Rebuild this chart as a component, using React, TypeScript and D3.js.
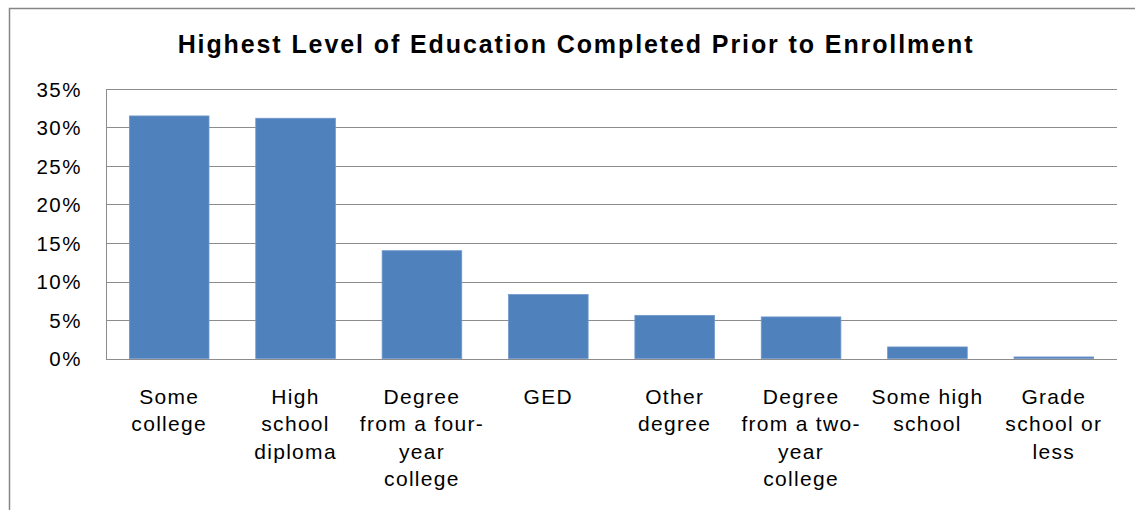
import { useEffect, useRef } from 'react';
import * as d3 from 'd3';

const title = 'Highest Level of Education Completed Prior to Enrollment';

const categories = [
  'Some college',
  'High school diploma',
  'Degree from a four-year college',
  'GED',
  'Other degree',
  'Degree from a two-year college',
  'Some high school',
  'Grade school or less',
];

// wrapped the way the original axis wraps them
const categoryLines = [
  ['Some', 'college'],
  ['High', 'school', 'diploma'],
  ['Degree', 'from a four-', 'year', 'college'],
  ['GED'],
  ['Other', 'degree'],
  ['Degree', 'from a two-', 'year', 'college'],
  ['Some high', 'school'],
  ['Grade', 'school or', 'less'],
];

const shares = [0.315, 0.312, 0.140, 0.083, 0.056, 0.054, 0.015, 0.002];

const yTicks = [0, 0.05, 0.1, 0.15, 0.2, 0.25, 0.3, 0.35];

function App() {
  const svgRef = useRef<SVGSVGElement>(null);

  useEffect(() => {
    if (!svgRef.current) return;
    d3.select(svgRef.current).selectAll('*').remove();

    const W = 1135;
    const H = 510;
    const plot = { left: 106, right: 1117, top: 89, bottom: 358.5 };
    const font = '"Liberation Sans", Arial, sans-serif';

    const svg = d3.select(svgRef.current).attr('width', W).attr('height', H);

    svg.append('rect').attr('width', W).attr('height', H).attr('fill', '#fff');

    // chart frame (right and bottom sides fall outside the picture)
    svg.append('path')
      .attr('d', `M9.5,${H + 2}V8.5H${W + 2}`)
      .attr('fill', 'none')
      .attr('stroke', '#868686')
      .attr('stroke-width', 1.5);

    svg.append('text')
      .attr('x', 576)
      .attr('y', 53)
      .attr('text-anchor', 'middle')
      .attr('font-family', font)
      .attr('font-weight', 'bold')
      .attr('font-size', 25)
      .attr('letter-spacing', 1.9)
      .attr('fill', '#000')
      .text(title);

    const x = d3.scaleBand<string>()
      .domain(categories)
      .range([plot.left, plot.right])
      .paddingInner(0.37)
      .paddingOuter(0.185);

    const y = d3.scaleLinear().domain([0, 0.35]).range([plot.bottom, plot.top]);

    // gridlines
    svg.append('g')
      .selectAll('line')
      .data(yTicks)
      .join('line')
      .attr('x1', plot.left)
      .attr('x2', plot.right)
      .attr('y1', d => Math.round(y(d)) + 0.5)
      .attr('y2', d => Math.round(y(d)) + 0.5)
      .attr('stroke', '#8c8c8c')
      .attr('stroke-width', 1);

    // value axis line
    svg.append('line')
      .attr('x1', plot.left + 0.5)
      .attr('x2', plot.left + 0.5)
      .attr('y1', Math.round(plot.top) + 0.5)
      .attr('y2', Math.round(plot.bottom) + 0.5)
      .attr('stroke', '#8c8c8c');

    // y tick labels
    svg.append('g')
      .selectAll('text')
      .data(yTicks)
      .join('text')
      .attr('x', 82)
      .attr('y', d => y(d) + 7.5)
      .attr('text-anchor', 'end')
      .attr('font-family', font)
      .attr('font-size', 20.5)
      .attr('letter-spacing', 1.5)
      .attr('fill', '#000')
      .text(d => d3.format('.0%')(d));

    // bars
    svg.append('g')
      .selectAll('rect')
      .data(shares)
      .join('rect')
      .attr('x', (_, i) => x(categories[i])!)
      .attr('y', d => y(d))
      .attr('width', x.bandwidth())
      .attr('height', d => y(0) - y(d))
      .attr('fill', '#4f81bd')
      .attr('stroke', '#6f97cb')
      .attr('stroke-width', 0.8);

    // category labels
    const labels = svg.append('g')
      .attr('font-family', font)
      .attr('font-size', 21)
      .attr('letter-spacing', 1.3)
      .attr('fill', '#000')
      .attr('text-anchor', 'middle');

    categoryLines.forEach((lines, i) => {
      const cx = x(categories[i])! + x.bandwidth() / 2;
      labels.append('text')
        .selectAll('tspan')
        .data(lines)
        .join('tspan')
        .attr('x', cx)
        .attr('y', (_, j) => 404 + j * 27.3)
        .text(d => d);
    });
  }, []);

  return (
    <svg ref={svgRef} style={{ position: 'absolute', left: 0, top: 0, display: 'block' }} />
  );
}

export default App;
